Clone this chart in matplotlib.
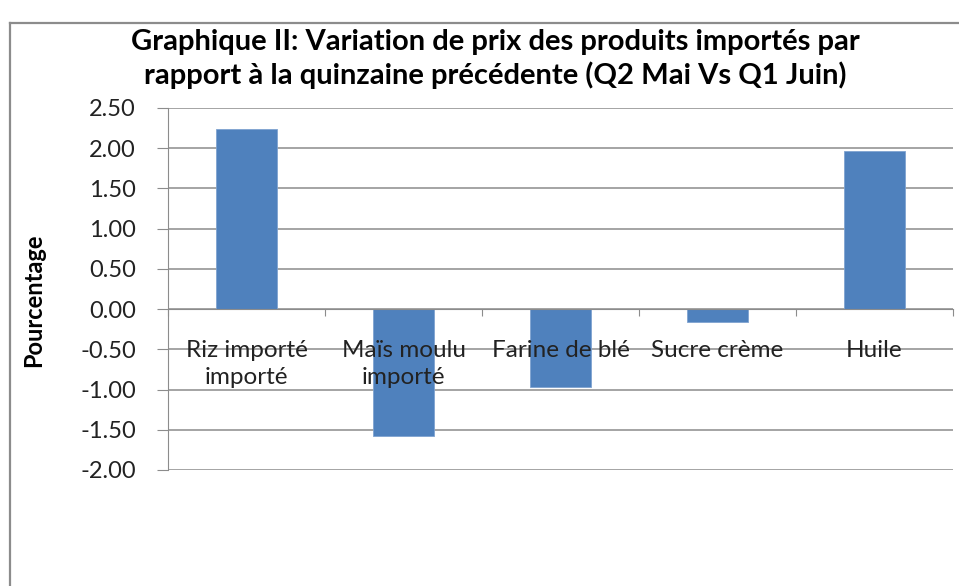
import matplotlib
matplotlib.use("Agg")
import matplotlib.pyplot as plt
from matplotlib.lines import Line2D
import numpy as np

categories = ["Riz importé\nimporté", "Maïs moulu\nimporté", "Farine de blé", "Sucre crème", "Huile"]
values = [2.24, -1.58, -0.97, -0.16, 1.97]
yticks = [-2.0, -1.5, -1.0, -0.5, 0.0, 0.5, 1.0, 1.5, 2.0, 2.5]

plt.rcParams['font.family'] = ['Lato', 'DejaVu Sans']

W, H = 959, 586
fig = plt.figure(figsize=(W / 100, H / 100), dpi=100)
fig.patch.set_facecolor('white')

left, right, top, bottom = 168, 953, 108, 470
ax = fig.add_axes([left / W, 1 - bottom / H, (right - left) / W, (bottom - top) / H])

x = np.arange(len(categories))
for yv in yticks:
    ax.axhline(yv, color='#8C8C8C', linewidth=1.1, zorder=0.5)
ax.bar(x, values, width=0.39, color='#4F81BD', edgecolor='#7FA3D0', linewidth=0.6, zorder=2)

ax.set_xlim(-0.5, len(categories) - 0.5)
ax.set_ylim(-2.0, 2.5)
ax.set_yticks(yticks)
ax.set_yticklabels([f"{v:.2f}" for v in yticks], fontsize=17, color='#222222')
ax.set_axisbelow(False)

# x axis at zero
ax.spines['bottom'].set_position(('data', 0))
ax.spines['bottom'].set_color('#8C8C8C')
ax.spines['left'].set_color('#8C8C8C')
ax.spines['top'].set_visible(False)
ax.spines['right'].set_visible(False)

ax.set_xticks(np.arange(len(categories) + 1) - 0.5)
ax.set_xticklabels([])
ax.set_xticks(x, minor=True)
ax.set_xticklabels(categories, minor=True, fontsize=17.5, color='#222222', linespacing=1.4)
ax.tick_params(axis='x', which='major', length=5, color='#8C8C8C', direction='out')
ax.tick_params(axis='x', which='minor', length=0, pad=22)
ax.tick_params(axis='y', length=8, color='#8C8C8C', pad=15)

ax.set_ylabel("Pourcentage", fontsize=17, fontweight='bold')
ax.yaxis.set_label_coords(-0.156, 0.47)

fig.text(495 / W, 1 - 59 / H, "Graphique II: Variation de prix des produits importés par\nrapport à la quinzaine précédente (Q2 Mai Vs Q1 Juin)",
         ha='center', va='center', fontsize=21, fontweight='bold', linespacing=1.3)

# chart border
fig.add_artist(Line2D([10 / W, 10 / W], [0, 1 - 23 / H], color='#8C8C8C', linewidth=1.6))
fig.add_artist(Line2D([10 / W, 1], [1 - 23 / H, 1 - 23 / H], color='#8C8C8C', linewidth=1.6))

fig.savefig("out.png", dpi=100)
